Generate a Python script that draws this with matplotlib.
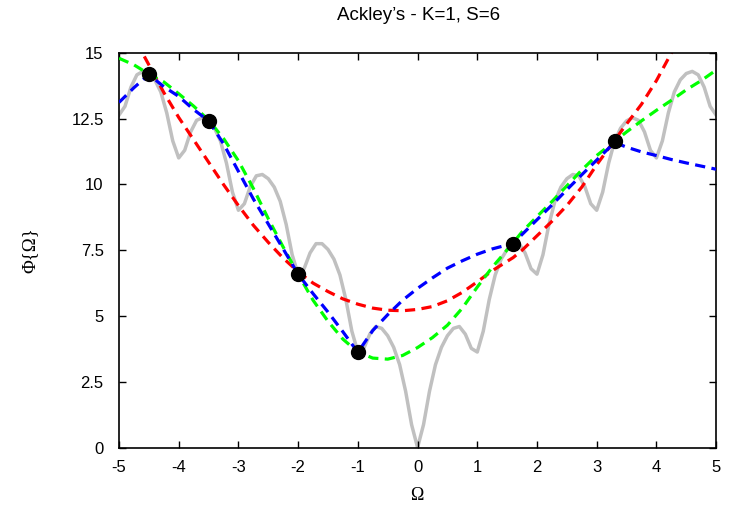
import numpy as np
import matplotlib
matplotlib.use("Agg")
import matplotlib.pyplot as plt

# Ackley's function sampled every 0.1 on [0, 5] (symmetric about 0)
ackley_half = [0.00, 0.87, 2.14, 3.15, 3.81, 4.25, 4.53, 4.60, 4.31, 3.77,
               3.63, 4.42, 5.62, 6.56, 7.16, 7.53, 7.75, 7.75, 7.40, 6.80,
               6.59, 7.33, 8.48, 9.36, 9.90, 10.22, 10.38, 10.33, 9.93, 9.27,
               9.02, 9.71, 10.81, 11.65, 12.14, 12.42, 12.54, 12.44, 12.00, 11.30,
               11.01, 11.66, 12.72, 13.52, 13.98, 14.22, 14.30, 14.17, 13.70, 12.97,
               12.64]
omega = np.round(np.arange(-50, 51) / 10.0, 1)
phi_true = ackley_half[:0:-1] + ackley_half

# sample points used to build the surrogates
sample_x = [-4.5, -3.5, -2.0, -1.0, 1.6, 3.3]
sample_y = [14.22, 12.42, 6.59, 3.63, 7.75, 11.65]

# surrogate model predictions
model_x = [-5.0, -4.75, -4.5, -4.25, -4.0, -3.75, -3.5, -3.25, -3.0, -2.75,
           -2.5, -2.25, -2.0, -1.75, -1.5, -1.25, -1.0, -0.75, -0.5, -0.25,
           0.0, 0.25, 0.5, 0.75, 1.0, 1.25, 1.6, 1.75, 2.0, 2.25,
           2.5, 2.75, 3.0, 3.3, 3.5, 3.75, 4.0, 4.25, 4.5, 4.75, 5.0]
model_red = [16.5, 15.6, 14.55, 13.5, 12.55, 11.7, 10.85, 10.0, 9.2, 8.45,
             7.8, 7.2, 6.68, 6.25, 5.93, 5.65, 5.45, 5.3, 5.22, 5.2,
             5.25, 5.36, 5.58, 5.9, 6.3, 6.72, 7.22, 7.5, 8.05, 8.6,
             9.2, 9.9, 10.75, 11.68, 12.3, 13.05, 13.95, 15.0, 16.0, 17.0, 18.0]
model_green = [14.8, 14.55, 14.2, 13.9, 13.45, 12.98, 12.45, 11.75, 10.9, 9.85,
               8.7, 7.62, 6.59, 5.6, 4.8, 4.12, 3.63, 3.4, 3.36, 3.5,
               3.8, 4.18, 4.65, 5.3, 6.1, 6.85, 7.78, 8.2, 8.78, 9.35,
               9.95, 10.55, 11.1, 11.64, 12.0, 12.42, 12.82, 13.2, 13.6, 13.95, 14.35]
model_blue = [13.12, 13.68, 14.18, 13.72, 13.35, 12.85, 12.42, 11.55, 10.5, 9.45,
              8.5, 7.55, 6.59, 5.85, 5.15, 4.4, 3.62, 4.45, 5.05, 5.6,
              6.05, 6.45, 6.82, 7.1, 7.35, 7.55, 7.76, 8.1, 8.66, 9.22,
              9.8, 10.37, 10.93, 11.6, 11.42, 11.24, 11.1, 10.95, 10.82, 10.7, 10.58]

x_ticks = [-5, -4, -3, -2, -1, 0, 1, 2, 3, 4, 5]
y_ticks = [0, 2.5, 5, 7.5, 10, 12.5, 15]
y_tick_labels = ["0", "2.5", "5", "7.5", "10", "12.5", "15"]

plt.rcParams["font.family"] = ["Liberation Sans", "DejaVu Sans"]

fig = plt.figure(figsize=(7.3, 5.09), dpi=100)
ax = fig.add_axes([0.163, 0.1208, 0.818, 0.7751])

ax.plot(omega, phi_true, color="#c0c0c0", lw=2.5, zorder=1, solid_joinstyle="round")
dash = (0, (3.2, 2.0))
ax.plot(model_x, model_red, color="#ff0000", lw=2.3, linestyle=dash, zorder=2)
ax.plot(model_x, model_green, color="#00ff00", lw=2.3, linestyle=dash, zorder=3)
ax.plot(model_x, model_blue, color="#0000ff", lw=2.3, linestyle=dash, zorder=4)
ax.plot(sample_x, sample_y, "o", color="black", ms=10, zorder=5, clip_on=False)

ax.set_xlim(-5, 5)
ax.set_ylim(0, 15)
ax.set_xticks(x_ticks)
ax.set_xticklabels([str(t) for t in x_ticks])
ax.set_yticks(y_ticks)
ax.set_yticklabels(y_tick_labels)
ax.tick_params(direction="in", length=5, width=1.0, top=True, right=True,
               labelsize=12, colors="black")
ax.tick_params(axis="x", pad=9)
ax.tick_params(axis="y", pad=11)
for s in ax.spines.values():
    s.set_linewidth(1.2)

fig.text(0.573, 1 - 16 / 509, "Ackley\u2019s - K=1, S=6", ha="center", va="center",
         fontsize=13.5)
fig.text(0.571, 1 - 495 / 509, "\u03a9", ha="center", va="center",
         fontsize=13, family=["Liberation Serif", "DejaVu Serif"])
fig.text(30 / 730, 1 - 250 / 509, "\u03a6{\u03a9}", ha="center", va="center",
         rotation=90, fontsize=13.5, family=["Liberation Serif", "DejaVu Serif"])

fig.savefig("out.png", dpi=100)
